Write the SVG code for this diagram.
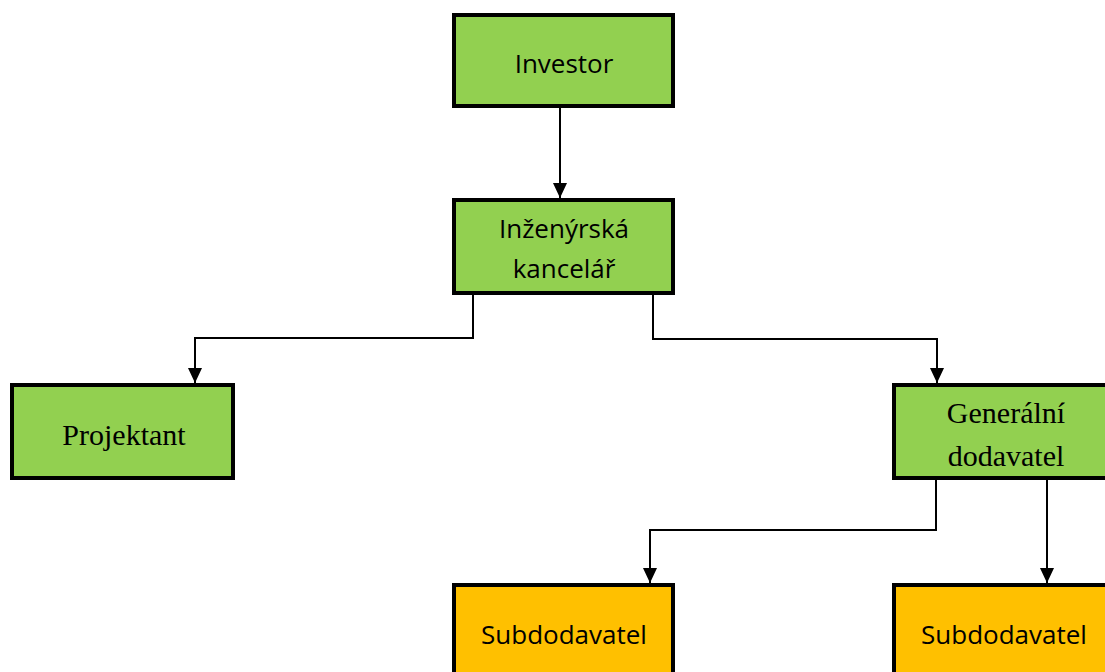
<svg xmlns="http://www.w3.org/2000/svg" width="1105" height="672" viewBox="0 0 1105 672">
<defs>
<marker id="arr" markerWidth="15" markerHeight="14" refX="15" refY="7" orient="auto" markerUnits="userSpaceOnUse">
<path d="M0,0 L15,7 L0,14 Z" fill="#000"/>
</marker>
<style>
.g{fill:#92D050;stroke:#000;stroke-width:4}
.o{fill:#FFC000;stroke:#000;stroke-width:4}
.s{font-family:"Open Sans","Noto Sans",sans-serif;font-size:26px;fill:#000;text-anchor:middle}
.t{font-family:"Liberation Serif",serif;font-size:30px;fill:#000;text-anchor:middle}
.c{fill:none;stroke:#000;stroke-width:2;marker-end:url(#arr)}
</style>
</defs>
<rect width="1105" height="672" fill="#fff"/>
<g id="connectors">
<path class="c" d="M560,108 V198"/>
<path class="c" d="M473,295 V338 H195 V383"/>
<path class="c" d="M653,295 V339 H937 V383"/>
<path class="c" d="M936,480 V530 H650 V583"/>
<path class="c" d="M1047,480 V583"/>
</g>
<g id="investor"><rect class="g" x="454" y="15" width="219" height="91"/><text class="s" x="564" y="73">Investor</text></g>
<g id="inzenyrska"><rect class="g" x="454" y="200" width="219" height="93"/><text class="s" x="564" y="238">Inženýrská</text><text class="s" x="564" y="278">kancelář</text></g>
<g id="projektant"><rect class="g" x="12" y="385" width="221" height="93"/><text class="t" x="124" y="445">Projektant</text></g>
<g id="generalni"><rect class="g" x="894" y="385" width="226" height="93"/><text class="t" x="1006" y="423">Generální</text><text class="t" x="1006" y="466">dodavatel</text></g>
<g id="sub1"><rect class="o" x="454" y="585" width="219" height="100"/><text class="s" x="564" y="644">Subdodavatel</text></g>
<g id="sub2"><rect class="o" x="894" y="585" width="226" height="100"/><text class="s" x="1004" y="644">Subdodavatel</text></g>
</svg>
